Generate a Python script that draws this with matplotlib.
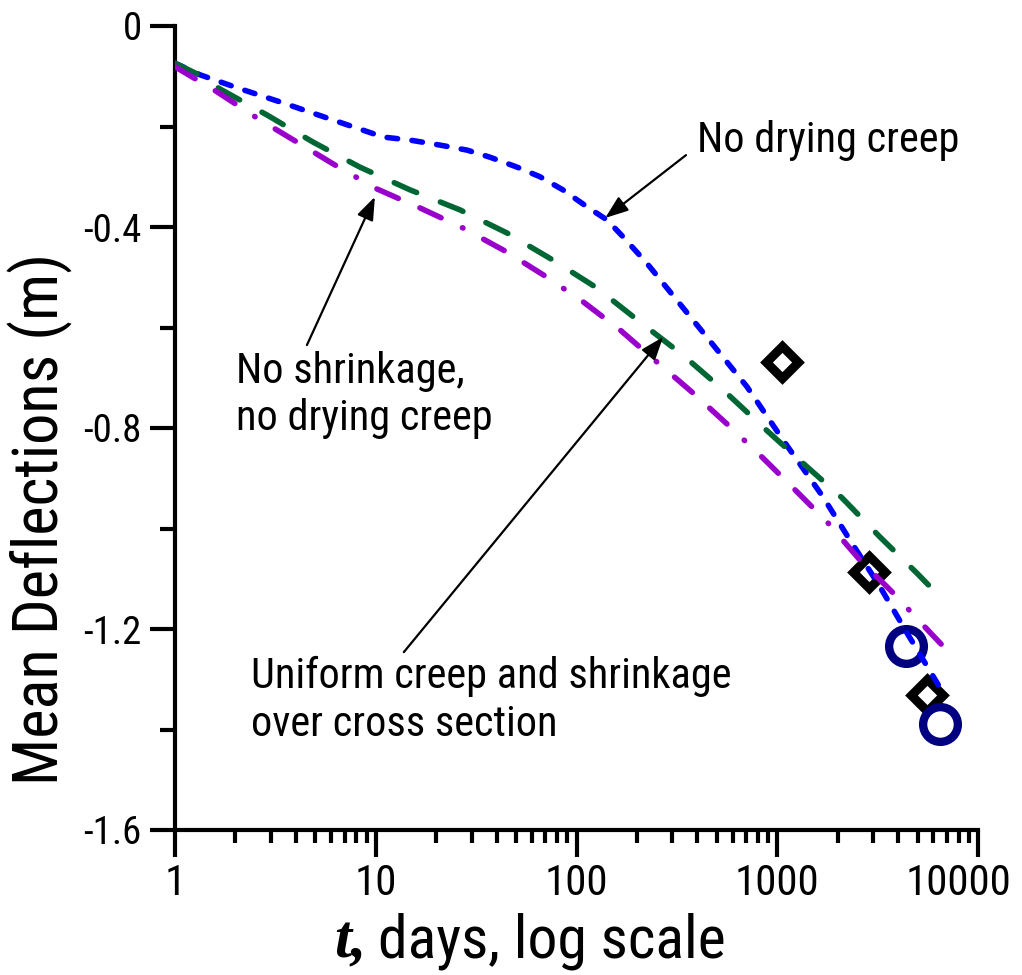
import matplotlib
matplotlib.use("Agg")
import matplotlib.pyplot as plt
from matplotlib.transforms import ScaledTranslation

# model curves: mean deflection vs. time (days)
t_no_dry = [1, 1.33, 2.04, 3.45, 6.12, 10.9, 14.8, 20.9, 28.5, 37, 50.7, 65.8, 85.5, 113, 142,
            171, 224, 380, 707, 1069, 1690, 2301, 3250, 4430, 6700]
v_no_dry = [-0.074, -0.097, -0.123, -0.153, -0.187, -0.221, -0.227, -0.237, -0.247, -0.261, -0.281,
            -0.300, -0.326, -0.360, -0.386, -0.420, -0.472, -0.585, -0.718, -0.824, -0.937, -1.023,
            -1.116, -1.208, -1.327]

t_uniform = [1, 1.33, 1.67, 2.87, 4.87, 8.35, 14.8, 26.3, 45.1, 76.4, 126, 207, 339, 537, 849,
             1343, 2102, 3250, 4967, 6324]
v_uniform = [-0.074, -0.098, -0.125, -0.177, -0.231, -0.281, -0.326, -0.366, -0.412, -0.466, -0.521,
             -0.589, -0.655, -0.724, -0.798, -0.870, -0.939, -1.017, -1.089, -1.132]

t_no_shr = [1, 1.62, 2.56, 4.05, 6.41, 10.1, 16.6, 27.2, 45.1, 71.3, 108, 165, 252, 380, 569, 821,
            1226, 1790, 2585, 3773, 5323, 6620]
v_no_shr = [-0.081, -0.131, -0.183, -0.231, -0.279, -0.324, -0.362, -0.402, -0.450, -0.500, -0.549,
            -0.605, -0.669, -0.730, -0.794, -0.854, -0.923, -0.989, -1.063, -1.128, -1.192, -1.232]

# measured deflections
t_diam = [1056, 2864, 5570]
v_diam = [-0.669, -1.087, -1.331]
t_circ = [4380, 6470]
v_circ = [-1.234, -1.389]

y_ticks = [0, -0.4, -0.8, -1.2, -1.6]
y_ticklabels = ["0", "-0.4", "-0.8", "-1.2", "-1.6"]
x_ticks = [1, 10, 100, 1000, 10000]
x_ticklabels = ["1", "10", "100", "1000", "10000"]

NARROW = ["Roboto Condensed", "DejaVu Sans"]
W, H = 1022, 975


def fx(px):
    return px / W


def fy(py):
    return 1 - py / H


fig = plt.figure(figsize=(W / 100, H / 100), dpi=100)
ax = fig.add_axes([fx(175), fy(830), fx(978) - fx(175), fy(26) - fy(830)])
ax.set_xscale("log")
ax.set_xlim(1, 10000)
ax.set_ylim(-1.6, 0)

lw = 4.0
ax.plot(t_diam, v_diam, linestyle="none", marker="D", ms=16.5, mew=6.5, mec="black",
        mfc="none", zorder=2, clip_on=False)
ax.plot(t_circ, v_circ, linestyle="none", marker="o", ms=25, mew=6, mec="#000080",
        mfc="none", zorder=2, clip_on=False)

ax.plot(t_no_dry, v_no_dry, color="#0000ff", lw=lw, dashes=(1.9, 2.6),
        dash_capstyle="round", zorder=3)
ax.plot(t_uniform, v_uniform, color="#006633", lw=lw, dashes=(4.4, 4.6),
        dash_capstyle="round", zorder=3)
ax.plot(t_no_shr, v_no_shr, color="#9900cc", lw=lw, dashes=(4.2, 4.25, 4.2, 4.25, 0.1, 4.25),
        dash_capstyle="round", zorder=3)

# axes styling
for s in ("top", "right"):
    ax.spines[s].set_visible(False)
for s in ("left", "bottom"):
    ax.spines[s].set_linewidth(3)

ax.set_yticks(y_ticks)
ax.set_yticklabels(y_ticklabels, family=NARROW, fontsize=28)
ax.set_yticks([-0.2, -0.6, -1.0, -1.4], minor=True)
ax.set_xticks(x_ticks)
ax.set_xticklabels(x_ticklabels, family=NARROW, fontsize=31)
ax.tick_params(axis="y", which="major", length=18, width=3, pad=6)
ax.tick_params(axis="y", which="minor", length=11, width=3)
ax.tick_params(axis="x", which="major", length=19.5, width=3, pad=4)
ax.tick_params(axis="x", which="minor", length=9.5, width=3)

# keep the last x label inside the figure
last = ax.get_xticklabels()[-1]
last.set_transform(last.get_transform() + ScaledTranslation(-0.2, 0, fig.dpi_scale_trans))

# axis titles
fig.text(fx(40), fy(519), "Mean Deflections (m)", rotation=90, ha="center", va="center",
         family=NARROW, fontsize=45)
fig.text(fx(366), fy(957), "t,", ha="right", va="baseline", family="Liberation Serif",
         style="italic", weight="bold", fontsize=44)
fig.text(fx(378), fy(957), "days, log scale", ha="left", va="baseline", family=NARROW,
         fontsize=43)

# curve labels
fs = 30.5
fig.text(fx(697), fy(152), "No drying creep", ha="left", va="baseline", family=NARROW,
         fontsize=fs)
fig.text(fx(236), fy(383), "No shrinkage,", ha="left", va="baseline", family=NARROW,
         fontsize=fs)
fig.text(fx(236), fy(430), "no drying creep", ha="left", va="baseline", family=NARROW,
         fontsize=fs)
fig.text(fx(251), fy(688), "Uniform creep and shrinkage", ha="left", va="baseline",
         family=NARROW, fontsize=fs)
fig.text(fx(251), fy(736), "over cross section", ha="left", va="baseline", family=NARROW,
         fontsize=fs)

arrow = dict(arrowstyle="-|>,head_length=0.7,head_width=0.26", color="black", lw=1.6,
             mutation_scale=20, shrinkA=0, shrinkB=0)
ax.annotate("", xy=(139, -0.382), xytext=(351, -0.257), arrowprops=arrow)
ax.annotate("", xy=(9.9, -0.340), xytext=(4.54, -0.635), arrowprops=arrow)
ax.annotate("", xy=(270, -0.619), xytext=(13.8, -1.246), arrowprops=arrow)

fig.savefig("out.png", dpi=100)
